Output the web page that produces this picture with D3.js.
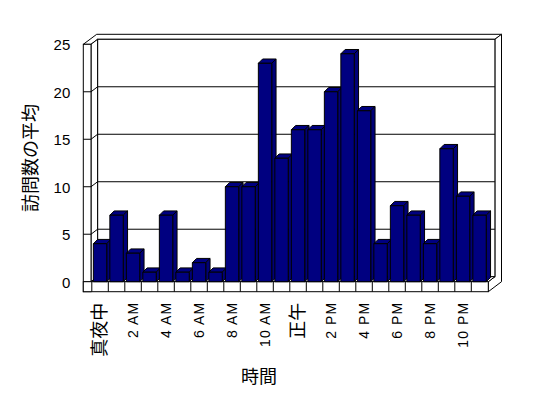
<!DOCTYPE html>
<html>
<head>
<meta charset="utf-8">
<script src="https://cdn.jsdelivr.net/npm/d3@7"></script>
<style>
  body { margin: 0; background: #fff; }
  svg { display: block; }
  .cjk { font-family: "Noto Sans CJK JP", sans-serif; }
</style>
</head>
<body>
<div id="chart"></div>
<script>
// hours 0..23, average visits per hour
var hours = d3.range(24);
var visits = [4, 7, 3, 1, 7, 1, 2, 1, 10, 10, 23, 13, 16, 16, 20, 24, 18, 4, 8, 7, 4, 14, 9, 7];
var tickHours = [0, 2, 4, 6, 8, 10, 12, 14, 16, 18, 20, 22];
var tickLabels = ["真夜中", "2 AM", "4 AM", "6 AM", "8 AM", "10 AM", "正午", "2 PM", "4 PM", "6 PM", "8 PM", "10 PM"];
var yTicks = [0, 5, 10, 15, 20, 25];

var W = 548, H = 398;
var latin = "'Liberation Sans', Arial, sans-serif";
var cjk = "'Noto Sans CJK JP', sans-serif";

var svg = d3.select("#chart").append("svg")
    .attr("width", W)
    .attr("height", H);

// front plane of the plot
var x0 = 91.8, x1 = 487.8;
var x = d3.scaleBand()
    .domain(hours)
    .range([x0, x1])
    .paddingInner(0.188)
    .paddingOuter(0.094);

var y = d3.scaleLinear()
    .domain([0, 25])
    .range([281.7, 44.3]);

// depth of the walls and of the bars
var dx = 6.6, dy = -5;
var bdx = 4.3, bdy = -4.3;
var wallL = 83.3, floorB = 291.7;
var xf0 = 91, xf1 = 488.3;

function pts(a) { return a.map(function(p) { return p.join(","); }).join(" "); }

var walls = svg.append("g")
    .attr("fill", "#fff")
    .attr("stroke", "#000")
    .attr("stroke-width", 1);

// top of the back and left walls
walls.append("polygon")
    .attr("points", pts([[wallL, y(25)], [xf0, y(25)], [xf0 + dx, y(25) + dy],
      [xf1 + dx, y(25) + dy], [xf1 + dx + 6.6, y(25) + dy - 5], [xf0 + 5.7, y(25) + dy - 5]]));

// right edge of back wall and floor
walls.append("polygon")
    .attr("points", pts([[xf1 + dx, y(25) + dy], [xf1 + dx + 6.6, y(25) + dy - 5],
      [xf1 + dx + 6.6, y(0)], [xf1, floorB], [xf1, y(0)], [xf1 + dx, y(0) + dy]]));

// back wall
walls.append("rect")
    .attr("x", xf0 + dx)
    .attr("y", y(25) + dy)
    .attr("width", xf1 - xf0)
    .attr("height", y(0) - y(25));

// back wall gridlines
walls.selectAll(".grid")
    .data(yTicks.slice(1, -1))
  .enter().append("line")
    .attr("class", "grid")
    .attr("x1", xf0 + dx)
    .attr("x2", xf1 + dx)
    .attr("y1", function(d) { return y(d) + dy; })
    .attr("y2", function(d) { return y(d) + dy; });

// inner side of the left wall
walls.append("polygon")
    .attr("points", pts([[xf0, y(25)], [xf0 + dx, y(25) + dy], [xf0 + dx, y(0) + dy], [xf0, y(0)]]));

// left wall front
walls.append("rect")
    .attr("x", wallL)
    .attr("y", y(25))
    .attr("width", xf0 - wallL)
    .attr("height", floorB - y(25));

// ticks on the left wall
walls.selectAll(".ytick")
    .data(yTicks.slice(0, -1))
  .enter().append("polyline")
    .attr("class", "ytick")
    .attr("fill", "none")
    .attr("points", function(d) {
      return pts([[wallL, y(d)], [xf0, y(d)], [xf0 + dx, y(d) + dy]]);
    });

// floor top and front
walls.append("polygon")
    .attr("points", pts([[xf0, y(0)], [xf1, y(0)], [xf1 + dx, y(0) + dy], [xf0 + dx, y(0) + dy]]));
walls.append("rect")
    .attr("x", wallL)
    .attr("y", y(0))
    .attr("width", xf1 - wallL)
    .attr("height", floorB - y(0));
walls.selectAll(".xdiv")
    .data(hours)
  .enter().append("line")
    .attr("class", "xdiv")
    .attr("x1", function(d) { return x0 + d * x.step(); })
    .attr("x2", function(d) { return x0 + d * x.step(); })
    .attr("y1", y(0))
    .attr("y2", floorB);

// bars
var bw = x.bandwidth();
var bar = svg.append("g")
    .attr("stroke", "#000")
    .attr("stroke-width", 1)
    .attr("stroke-linejoin", "round")
  .selectAll(".bar")
    .data(hours)
  .enter().append("g")
    .attr("class", "bar");

bar.append("polygon")
    .attr("fill", "#000080")
    .attr("points", function(d) {
      var l = x(d), t = y(visits[d]);
      return pts([[l, t], [l + bdx, t + bdy], [l + bw + bdx, t + bdy], [l + bw, t]]);
    });
bar.append("polygon")
    .attr("fill", "#000078")
    .attr("points", function(d) {
      var r = x(d) + bw, t = y(visits[d]);
      return pts([[r, t], [r + bdx, t + bdy], [r + bdx, y(0) + bdy], [r, y(0)]]);
    });
bar.append("rect")
    .attr("fill", "#000080")
    .attr("x", function(d) { return x(d); })
    .attr("y", function(d) { return y(visits[d]); })
    .attr("width", bw)
    .attr("height", function(d) { return y(0) - y(visits[d]); });

// y axis labels
var yAxis = svg.append("g")
    .attr("transform", "translate(" + wallL + ",0)")
    .call(d3.axisLeft(y).tickValues(yTicks).tickSize(0).tickPadding(13));
yAxis.attr("font-size", 15).attr("font-family", latin);
yAxis.select(".domain").remove();
yAxis.selectAll("text")
    .attr("dy", "0.36em")
    .attr("fill", "#000");

// x axis labels
function isLatin(d) { return /AM|PM/.test(tickLabels[tickHours.indexOf(d)]); }
var xAxis = svg.append("g")
    .attr("transform", "translate(0," + floorB + ")")
    .call(d3.axisBottom(x).tickValues(tickHours).tickSize(0)
      .tickFormat(function(d) { return tickLabels[tickHours.indexOf(d)]; }));
xAxis.attr("font-size", null).attr("font-family", null);
xAxis.select(".domain").remove();
xAxis.selectAll("text")
    .attr("transform", "rotate(-90)")
    .attr("x", function(d) { return isLatin(d) ? -10 : -11; })
    .attr("y", 0)
    .attr("dy", "0.35em")
    .attr("fill", "#000")
    .attr("text-anchor", "end")
    .attr("font-family", function(d) { return isLatin(d) ? latin : cjk; })
    .attr("font-size", function(d) { return isLatin(d) ? 14 : 18; })
    .attr("letter-spacing", function(d) { return isLatin(d) ? 1.1 : 0; });

// axis titles
svg.append("text")
    .attr("class", "cjk")
    .attr("transform", "translate(31,158) rotate(-90)")
    .attr("text-anchor", "middle")
    .attr("dy", "0.35em")
    .attr("font-size", 18)
    .text("訪問数の平均");

svg.append("text")
    .attr("class", "cjk")
    .attr("x", 259)
    .attr("y", 377)
    .attr("text-anchor", "middle")
    .attr("dy", "0.35em")
    .attr("font-size", 18)
    .text("時間");
</script>
</body>
</html>
